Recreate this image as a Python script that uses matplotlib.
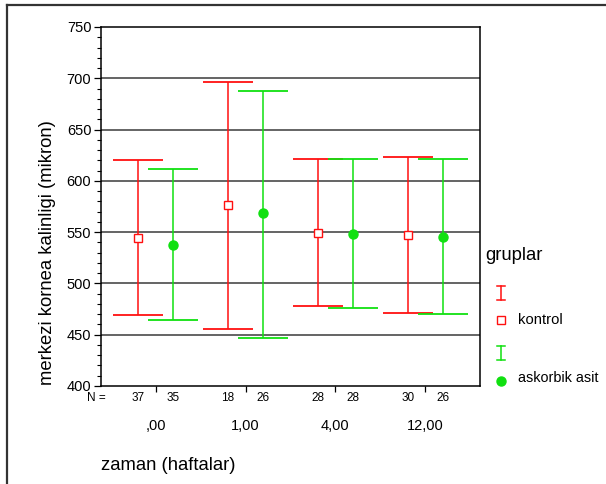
import matplotlib
matplotlib.use("Agg")
import matplotlib.pyplot as plt
from matplotlib.lines import Line2D
from matplotlib.transforms import blended_transform_factory
import numpy as np

plt.rcParams['font.family'] = ['Liberation Sans', 'DejaVu Sans']

# Data
categories = [",00", "1,00", "4,00", "12,00"]
kontrol_mean = [544, 576, 549, 547]
kontrol_low = [469, 456, 478, 471]
kontrol_high = [620, 696, 621, 623]
kontrol_n = [37, 18, 28, 30]
askorbik_mean = [537, 569, 548, 545]
askorbik_low = [464, 447, 476, 470]
askorbik_high = [612, 688, 621, 621]
askorbik_n = [35, 26, 28, 26]

RED = '#ff1010'
GREEN = '#10e010'

W, H = 606, 484
fig = plt.figure(figsize=(W / 100, H / 100), dpi=100)
ax = fig.add_axes([101 / W, 1 - 386 / H, (480 - 101) / W, (386 - 27) / H])

x = np.arange(1, len(categories) + 1)
off = 0.195

def draw(xs, m, lo, hi, color, marker, mfc, ms):
    m = np.array(m); lo = np.array(lo); hi = np.array(hi)
    ax.errorbar(xs, m, yerr=[m - lo, hi - m], fmt='none', ecolor=color,
                elinewidth=1.1, capsize=18, capthick=1.3, zorder=3)
    ax.plot(xs, m, linestyle='none', marker=marker, markersize=ms,
            markerfacecolor=mfc, markeredgecolor=color, markeredgewidth=1.0, zorder=4)

draw(x - off, kontrol_mean, kontrol_low, kontrol_high, RED, 's', 'white', 5.3)
draw(x + off, askorbik_mean, askorbik_low, askorbik_high, GREEN, 'o', GREEN, 6.5)

ax.set_xlim(0.39, 4.61)
ax.set_ylim(400, 750)
for v in [450, 500, 550, 600, 650, 700]:
    ax.axhline(v, color='#3a3a3a', lw=1.1, zorder=1)

ax.set_yticks(np.arange(400, 751, 50))
ax.set_yticks(np.arange(400, 751, 10), minor=True)
ax.tick_params(axis='y', which='major', length=5, width=0.9, labelsize=10.5, pad=2)
ax.tick_params(axis='y', which='minor', length=3, width=0.8)
ax.set_xticks(x)
ax.set_xticklabels(categories)
ax.tick_params(axis='x', length=4, width=0.9, labelsize=10.5, pad=20)
for s in ax.spines.values():
    s.set_linewidth(1.1)
    s.set_color('black')

tr = blended_transform_factory(ax.transData, ax.transAxes)
for xi, n in zip(x - off, kontrol_n):
    ax.text(xi, -0.033, str(n), transform=tr, ha='center', va='center', fontsize=8.5)
for xi, n in zip(x + off, askorbik_n):
    ax.text(xi, -0.033, str(n), transform=tr, ha='center', va='center', fontsize=8.5)
ax.text(0.39 - 0.05, -0.033, "N =", transform=tr, ha='center', va='center', fontsize=8.5)

fig.text(48 / W, 1 - 253 / H, "merkezi kornea kalinligi (mikron)", rotation=90,
         ha='center', va='center', fontsize=13.3)
fig.text(101 / W, 1 - 465 / H, "zaman (haftalar)", ha='left', va='center', fontsize=13.3)

# Legend
fig.text(485 / W, 1 - 255 / H, "gruplar", ha='left', va='center', fontsize=13.3)

def fx(px):
    return px / W

def fy(py):
    return 1 - py / H

def ibar(cx, y0, y1, color):
    fig.add_artist(Line2D([fx(cx), fx(cx)], [fy(y0), fy(y1)], color=color, lw=1.1,
                          transform=fig.transFigure))
    for yy in (y0, y1):
        fig.add_artist(Line2D([fx(cx - 4), fx(cx + 4)], [fy(yy), fy(yy)], color=color,
                              lw=1.1, transform=fig.transFigure))

ibar(501, 286, 300, RED)
fig.add_artist(Line2D([fx(501)], [fy(320)], marker='s', markersize=5.3, markerfacecolor='white',
                      markeredgecolor=RED, markeredgewidth=1.0, linestyle='none',
                      transform=fig.transFigure))
fig.text(518 / W, 1 - 320 / H, "kontrol", ha='left', va='center', fontsize=10.6)
ibar(501, 346, 360, GREEN)
fig.add_artist(Line2D([fx(501)], [fy(381)], marker='o', markersize=6.5, markerfacecolor=GREEN,
                      markeredgecolor=GREEN, linestyle='none', transform=fig.transFigure))
fig.text(518 / W, 1 - 378 / H, "askorbik asit", ha='left', va='center', fontsize=10.4)

# Outer frame (top and left)
fig.add_artist(Line2D([fx(6.5), 1.0], [fy(5), fy(5)], color='#333333', lw=1.6,
                      transform=fig.transFigure))
fig.add_artist(Line2D([fx(6.5), fx(6.5)], [fy(5), 0.0], color='#333333', lw=1.6,
                      transform=fig.transFigure))

fig.savefig("out.png", dpi=100)
